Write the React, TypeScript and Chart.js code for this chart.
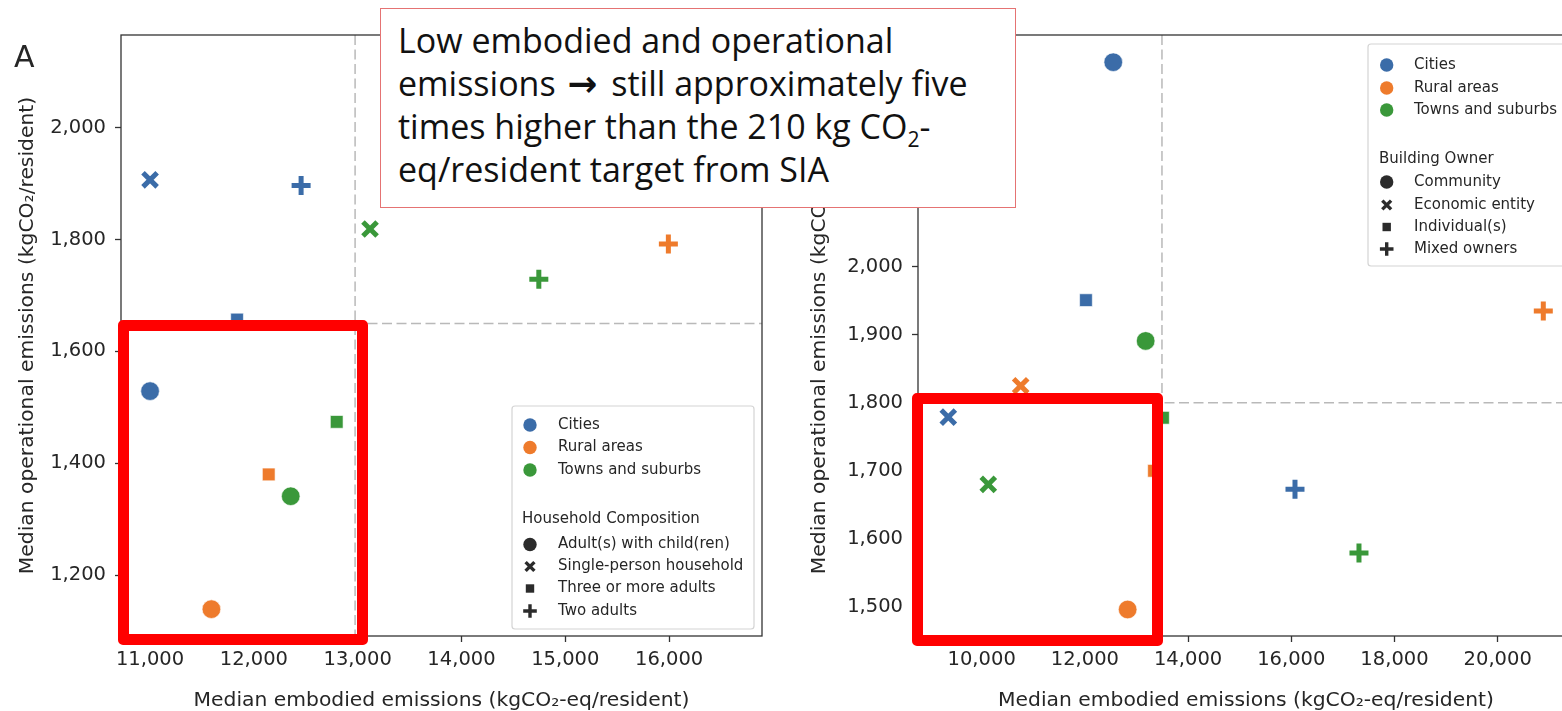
import React, { useEffect, useRef } from 'react';
import { Chart, registerables } from 'chart.js';

Chart.register(...registerables);

// ---------- shared categories ----------
const regionLabels = ['Cities', 'Rural areas', 'Towns and suburbs'];
const regionColors = ['#3b6ca8', '#ee7b2c', '#3a983a'];
const markerStyles = ['circle', 'crossRot', 'rect', 'cross'];

// ---------- Panel A : household composition ----------
const householdLabels = ['Adult(s) with child(ren)', 'Single-person household', 'Three or more adults', 'Two adults'];
// order of values: child(ren), single-person, three+, two adults
const hhCitiesEmbodied = [11000, 11000, 11838, 12455];
const hhCitiesOperational = [1529, 1907, 1657, 1897];
const hhRuralEmbodied: (number | null)[] = [11591, null, 12143, 15993];
const hhRuralOperational: (number | null)[] = [1139, null, 1380, 1792];
const hhTownsEmbodied = [12355, 13119, 12798, 14745];
const hhTownsOperational = [1341, 1819, 1474, 1729];
const hhMedianEmbodied = 12975;
const hhMedianOperational = 1650;
const hhXTicks = [11000, 12000, 13000, 14000, 15000, 16000];
const hhYTicks = [1200, 1400, 1600, 1800, 2000];

// ---------- Panel B : building owner ----------
const ownerLabels = ['Community', 'Economic entity', 'Individual(s)', 'Mixed owners'];
const ownCitiesEmbodied = [12550, 9353, 12021, 16072];
const ownCitiesOperational = [2301, 1779, 1951, 1673];
const ownRuralEmbodied = [12829, 10756, 13340, 20884];
const ownRuralOperational = [1496, 1825, 1700, 1935];
const ownTownsEmbodied = [13178, 10128, 13513, 17312];
const ownTownsOperational = [1891, 1680, 1778, 1579];
const ownMedianEmbodied = 13494;
const ownMedianOperational = 1800;
const ownXTicks = [10000, 12000, 14000, 16000, 18000, 20000];
const ownYTicks = [1500, 1600, 1700, 1800, 1900, 2000, 2100, 2200, 2300];

const xTitle = 'Median embodied emissions (kgCO\u2082-eq/resident)';
const yTitle = 'Median operational emissions (kgCO\u2082/resident)';

const TEXT = '#262626';
const FONT = 'DejaVu Sans';

type Legend = {
  box: { x: number; y: number; w: number; h: number };
  markerX: number;
  textX: number;
  colorRows: number[];
  title: string;
  titleX: number;
  titleY: number;
  shapeRows: number[];
  shapeLabels: string[];
};

type Panel = {
  width: number;
  padRight: number;
  yAxisWidth: number;
  xMin: number; xMax: number; xTicks: number[];
  yMin: number; yMax: number; yTicks: number[];
  medianX: number; medianY: number;
  xs: (number | null)[][];
  ys: (number | null)[][];
  yTitleX: number;
  letter?: string;
  legend: Legend;
};

const markerRadius: Record<string, number> = { circle: 9.3, crossRot: 10, rect: 9, cross: 9.5 };
const markerLine: Record<string, number> = { circle: 0.6, crossRot: 5, rect: 0.6, cross: 5 };

function buildDatasets(xs: (number | null)[][], ys: (number | null)[][]) {
  return regionLabels.map((label, r) => {
    const data: { x: number; y: number }[] = [];
    const styles: string[] = [];
    const radii: number[] = [];
    const widths: number[] = [];
    const borders: string[] = [];
    xs[r].forEach((x, i) => {
      const y = ys[r][i];
      if (x == null || y == null) return;
      const s = markerStyles[i];
      data.push({ x, y });
      styles.push(s);
      radii.push(markerRadius[s]);
      widths.push(markerLine[s]);
      borders.push(s === 'circle' || s === 'rect' ? '#ffffff' : regionColors[r]);
    });
    return {
      label,
      data,
      pointStyle: styles,
      pointRadius: radii,
      pointBorderWidth: widths,
      pointBorderColor: borders,
      pointBackgroundColor: regionColors[r],
      showLine: false,
      clip: false as any,
    };
  });
}

function drawMarker(ctx: CanvasRenderingContext2D, style: string, cx: number, cy: number, color: string) {
  ctx.save();
  ctx.fillStyle = color;
  ctx.strokeStyle = color;
  ctx.beginPath();
  if (style === 'circle') {
    ctx.arc(cx, cy, 6.7, 0, Math.PI * 2);
    ctx.fill();
  } else if (style === 'crossRot') {
    const d = 4.4;
    ctx.lineWidth = 3.4;
    ctx.moveTo(cx - d, cy - d); ctx.lineTo(cx + d, cy + d);
    ctx.moveTo(cx + d, cy - d); ctx.lineTo(cx - d, cy + d);
    ctx.stroke();
  } else if (style === 'rect') {
    ctx.fillRect(cx - 4.2, cy - 4.2, 8.4, 8.4);
  } else {
    const d = 6.8;
    ctx.lineWidth = 3.4;
    ctx.moveTo(cx - d, cy); ctx.lineTo(cx + d, cy);
    ctx.moveTo(cx, cy - d); ctx.lineTo(cx, cy + d);
    ctx.stroke();
  }
  ctx.restore();
}

function overlayPlugin(p: Panel) {
  return {
    id: 'panelOverlay',
    beforeDatasetsDraw(chart: any) {
      const { ctx, chartArea: a, scales } = chart;
      const px = scales.x.getPixelForValue(p.medianX);
      const py = scales.y.getPixelForValue(p.medianY);
      ctx.save();
      ctx.strokeStyle = '#b9b9b9';
      ctx.lineWidth = 1.5;
      ctx.setLineDash([10, 4.5]);
      ctx.beginPath();
      ctx.moveTo(px, a.top); ctx.lineTo(px, a.bottom);
      ctx.moveTo(a.left, py); ctx.lineTo(a.right, py);
      ctx.stroke();
      ctx.restore();
    },
    afterDraw(chart: any) {
      const { ctx, chartArea: a } = chart;
      ctx.save();
      // frame
      ctx.strokeStyle = '#333333';
      ctx.lineWidth = 1.3;
      ctx.strokeRect(a.left, a.top, a.right - a.left, a.bottom - a.top);

      // axis titles
      ctx.fillStyle = TEXT;
      ctx.font = `20.3px "${FONT}"`;
      ctx.textAlign = 'center';
      ctx.textBaseline = 'alphabetic';
      ctx.fillText(xTitle, (a.left + a.right) / 2, 706);
      ctx.save();
      ctx.translate(p.yTitleX, (a.top + a.bottom) / 2);
      ctx.rotate(-Math.PI / 2);
      ctx.fillText(yTitle, 0, 0);
      ctx.restore();

      if (p.letter) {
        ctx.font = `30px "${FONT}"`;
        ctx.textAlign = 'left';
        ctx.fillText(p.letter, 14, 67);
      }

      // legend
      const L = p.legend;
      ctx.fillStyle = 'rgba(255,255,255,0.9)';
      ctx.strokeStyle = '#d4d4d4';
      ctx.lineWidth = 1.2;
      ctx.beginPath();
      (ctx as any).roundRect(L.box.x, L.box.y, L.box.w, L.box.h, 3);
      ctx.fill();
      ctx.stroke();

      ctx.font = `15px "${FONT}"`;
      ctx.textAlign = 'left';
      ctx.textBaseline = 'middle';
      regionLabels.forEach((lab, i) => {
        drawMarker(ctx, 'circle', L.markerX, L.colorRows[i], regionColors[i]);
        ctx.fillStyle = TEXT;
        ctx.fillText(lab, L.textX, L.colorRows[i]);
      });
      ctx.fillStyle = TEXT;
      ctx.fillText(L.title, L.titleX, L.titleY);
      L.shapeLabels.forEach((lab, i) => {
        drawMarker(ctx, markerStyles[i], L.markerX, L.shapeRows[i], '#2b2b2b');
        ctx.fillStyle = TEXT;
        ctx.fillText(lab, L.textX, L.shapeRows[i]);
      });
      ctx.restore();
    },
  };
}

const fmt = (v: any) => Number(v).toLocaleString('en-US');

function ChartPanel({ p, left }: { p: Panel; left: number }) {
  const ref = useRef<HTMLCanvasElement>(null);
  useEffect(() => {
    const tickFont = { family: FONT, size: 19.5 };
    const grid = {
      display: true,
      drawOnChartArea: false,
      drawTicks: true,
      tickLength: 6,
      tickColor: '#333333',
      tickWidth: 1.3,
    };
    const chart = new Chart(ref.current as HTMLCanvasElement, {
      type: 'scatter',
      data: { datasets: buildDatasets(p.xs, p.ys) as any },
      options: {
        animation: false,
        responsive: false,
        devicePixelRatio: 1,
        layout: { padding: { left: 0, right: p.padRight, top: 35, bottom: 0 } },
        plugins: { legend: { display: false }, tooltip: { enabled: false } },
        scales: {
          x: {
            type: 'linear',
            min: p.xMin,
            max: p.xMax,
            afterBuildTicks: (s: any) => { s.ticks = p.xTicks.map((v) => ({ value: v })); },
            afterFit: (s: any) => { s.height = 75; },
            ticks: {
              autoSkip: false,
              maxRotation: 0,
              padding: 6,
              font: tickFont,
              color: TEXT,
              callback: fmt,
            },
            grid,
            border: { display: false },
          },
          y: {
            type: 'linear',
            min: p.yMin,
            max: p.yMax,
            afterBuildTicks: (s: any) => { s.ticks = p.yTicks.map((v) => ({ value: v })); },
            afterFit: (s: any) => { s.width = p.yAxisWidth; },
            ticks: {
              autoSkip: false,
              padding: 9,
              font: tickFont,
              color: TEXT,
              callback: fmt,
            },
            grid,
            border: { display: false },
          },
        },
      } as any,
      plugins: [overlayPlugin(p)],
    });
    return () => chart.destroy();
  }, []);
  return (
    <canvas
      ref={ref}
      width={p.width}
      height={711}
      style={{ position: 'absolute', left, top: 0, width: p.width, height: 711 }}
    />
  );
}

const panelA: Panel = {
  width: 790,
  padRight: 28,
  yAxisWidth: 121,
  xMin: 10720, xMax: 16895, xTicks: hhXTicks,
  yMin: 1091, yMax: 2166, yTicks: hhYTicks,
  medianX: hhMedianEmbodied, medianY: hhMedianOperational,
  xs: [hhCitiesEmbodied, hhRuralEmbodied, hhTownsEmbodied],
  ys: [hhCitiesOperational, hhRuralOperational, hhTownsOperational],
  yTitleX: 33,
  letter: 'A',
  legend: {
    box: { x: 512, y: 406, w: 242, h: 223 },
    markerX: 530,
    textX: 558,
    colorRows: [425, 447.5, 470],
    title: 'Household Composition',
    titleX: 522,
    titleY: 519,
    shapeRows: [544.5, 566.5, 588.5, 611],
    shapeLabels: householdLabels,
  },
};

const panelB: Panel = {
  width: 800,
  padRight: 26,
  yAxisWidth: 118,
  xMin: 8766, xMax: 21479, xTicks: ownXTicks,
  yMin: 1457, yMax: 2341, yTicks: ownYTicks,
  medianX: ownMedianEmbodied, medianY: ownMedianOperational,
  xs: [ownCitiesEmbodied, ownRuralEmbodied, ownTownsEmbodied],
  ys: [ownCitiesOperational, ownRuralOperational, ownTownsOperational],
  yTitleX: 25,
  legend: {
    box: { x: 568, y: 44, w: 260, h: 222 },
    markerX: 586.7,
    textX: 614,
    colorRows: [65, 88, 110],
    title: 'Building Owner',
    titleX: 579,
    titleY: 159,
    shapeRows: [182, 205, 227, 249],
    shapeLabels: ownerLabels,
  },
};

export default function App() {
  return (
    <div
      style={{
        position: 'absolute',
        left: 0,
        top: 0,
        width: 1562,
        height: 711,
        overflow: 'hidden',
        background: '#ffffff',
      }}
    >
      <ChartPanel p={panelA} left={0} />
      <ChartPanel p={panelB} left={800} />

      <div
        style={{
          position: 'absolute',
          left: 118,
          top: 320,
          width: 250,
          height: 325,
          border: '11px solid #ff0000',
          borderRadius: 5,
          boxSizing: 'border-box',
        }}
      />
      <div
        style={{
          position: 'absolute',
          left: 912,
          top: 393,
          width: 251,
          height: 253,
          border: '11px solid #ff0000',
          borderRadius: 5,
          boxSizing: 'border-box',
        }}
      />

      <div
        style={{
          position: 'absolute',
          left: 380,
          top: 8,
          width: 636,
          height: 200,
          boxSizing: 'border-box',
          border: '1.5px solid #e57373',
          background: '#ffffff',
          padding: '10px 0 0 17px',
          fontFamily: '"Open Sans", sans-serif',
          fontSize: 34,
          lineHeight: '43px',
          color: '#111111',
          whiteSpace: 'nowrap',
        }}
      >
        Low embodied and operational
        <br />
        emissions{' '}
        <b style={{ fontFamily: '"DejaVu Sans"', fontSize: '1.05em', margin: '0 5px 0 3px' }}>→</b>{' '}
        still approximately five
        <br />
        times higher than the 210 kg CO<sub style={{ fontSize: '0.62em', lineHeight: 0 }}>2</sub>-
        <br />
        eq/resident target from SIA
      </div>
    </div>
  );
}
